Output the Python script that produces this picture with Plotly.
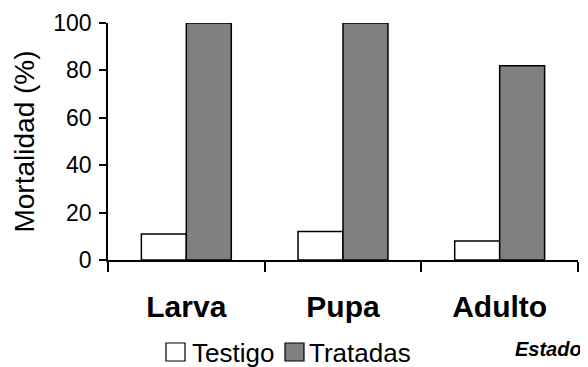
import plotly.graph_objects as go

categories = ["Larva", "Pupa", "Adulto"]
testigo = [11, 12, 8]
tratadas = [100, 100, 82]
series_names = ["Testigo", "Tratadas"]
y_ticks = [0, 20, 40, 60, 80, 100]

FONT = "Arial, Liberation Sans, sans-serif"

fig = go.Figure()
fig.add_trace(go.Bar(x=categories, y=testigo, name=series_names[0],
                     marker=dict(color="white", line=dict(color="black", width=1.5)),
                     showlegend=False))
fig.add_trace(go.Bar(x=categories, y=tratadas, name=series_names[1],
                     marker=dict(color="#808080", line=dict(color="black", width=1.5)),
                     showlegend=False))

# page body has an 8px margin; figure is sized so it fills the 588x367 window
OFF = 8
W, H = 588 - OFF, 367 - OFF
L, R, T, B = 108 - OFF, 10, 23 - OFF, 367 - 260
pw = W - L - R
ph = H - T - B

def px(x):
    return (x - OFF - L) / pw

def py(y):
    return (H - B - (y - OFF)) / ph

# manual legend (page pixel positions)
legend_items = [(166, "white", series_names[0], 190), (285, "#808080", series_names[1], 307)]
shapes = []
annotations = []
for bx, col, name, tx in legend_items:
    shapes.append(dict(type="rect", xref="paper", yref="paper",
                       x0=px(bx), x1=px(bx + 19), y0=py(361), y1=py(343),
                       fillcolor=col, line=dict(color="black", width=1.2)))
    annotations.append(dict(text=name, xref="paper", yref="paper",
                            x=px(tx), y=py(353), xanchor="left", yanchor="middle",
                            showarrow=False, font=dict(family=FONT, size=26, color="black")))

annotations.append(dict(text="<b><i>Estado</i></b>", xref="paper", yref="paper",
                        x=px(584), y=py(349), xanchor="right", yanchor="middle",
                        showarrow=False, font=dict(family=FONT, size=20, color="black")))

fig.update_layout(
    width=W, height=H,
    margin=dict(l=L, r=R, t=T, b=B),
    paper_bgcolor="white", plot_bgcolor="white",
    barmode="group", bargap=0.426, bargroupgap=0,
    font=dict(family=FONT, color="black"),
    shapes=shapes, annotations=annotations,
    showlegend=False,
)
fig.update_xaxes(
    automargin=False,
    showline=True, linecolor="black", linewidth=1.5,
    ticks="outside", tickson="boundaries", ticklen=10, tickwidth=1.5, tickcolor="black",
    tickfont=dict(family=FONT, size=30, color="black"),
    tickprefix="<b>", ticksuffix="</b>",
    ticklabelstandoff=19,
    showgrid=False, zeroline=False,
)
fig.update_yaxes(
    automargin=False,
    range=[0, 100], tickvals=y_ticks,
    showline=True, linecolor="black", linewidth=1.5,
    ticks="outside", ticklen=7, tickwidth=1.5, tickcolor="black",
    tickfont=dict(family=FONT, size=23, color="black"),
    ticklabelstandoff=3,
    title=dict(text="Mortalidad (%)", font=dict(family=FONT, size=28, color="black"), standoff=10),
    showgrid=False, zeroline=False,
)

fig.write_html("out.html")
